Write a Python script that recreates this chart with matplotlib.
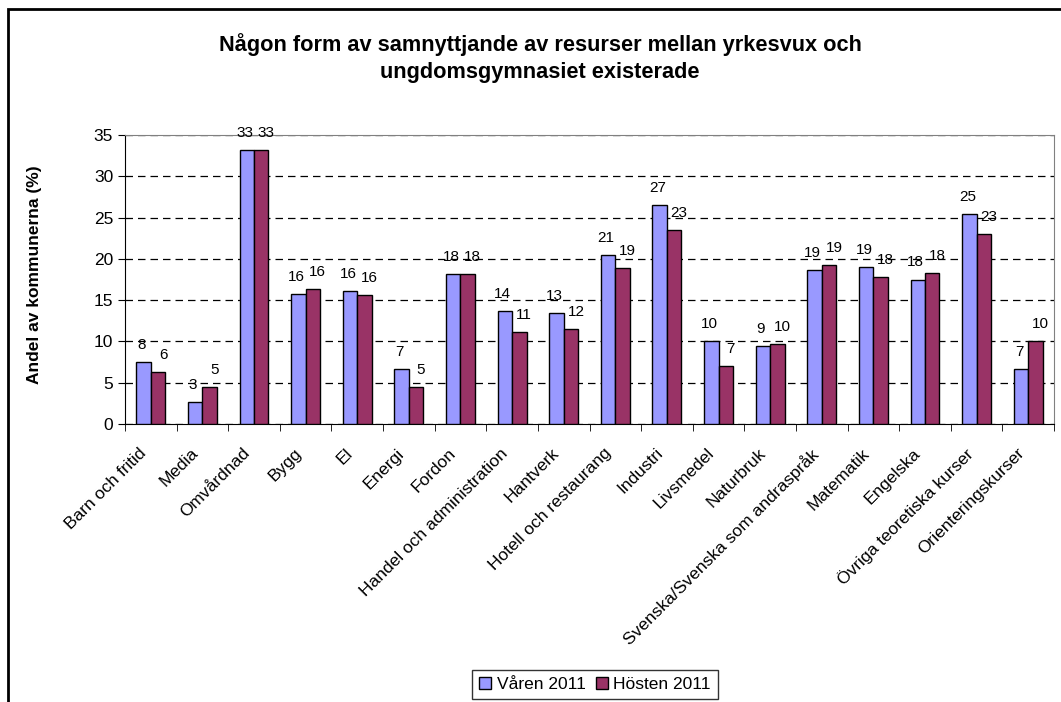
import numpy as np
import matplotlib.pyplot as plt
import matplotlib.transforms as mtransforms
from matplotlib.patches import Rectangle

plt.rcParams['font.family'] = ['Liberation Sans', 'DejaVu Sans']

categories = ["Barn och fritid", "Media", "Omvårdnad", "Bygg", "El", "Energi",
              "Fordon", "Handel och administration", "Hantverk",
              "Hotell och restaurang", "Industri", "Livsmedel", "Naturbruk",
              "Svenska/Svenska som andraspråk", "Matematik", "Engelska",
              "Övriga teoretiska kurser", "Orienteringskurser"]
varen = [7.55, 2.65, 33.2, 15.8, 16.1, 6.7, 18.2, 13.7, 13.4, 20.5, 26.5,
         10.1, 9.4, 18.7, 19.0, 17.5, 25.4, 6.7]
hosten = [6.35, 4.5, 33.2, 16.4, 15.6, 4.5, 18.2, 11.2, 11.55, 18.9, 23.45,
          7.0, 9.7, 19.3, 17.8, 18.3, 23.0, 10.1]
series = ["Våren 2011", "Hösten 2011"]
colors = ["#9999FF", "#993366"]

fig = plt.figure(figsize=(10.61, 7.02), dpi=100)
ax = fig.add_axes([125/1061, 1-424/702, (1054-125)/1061, (424-135)/702])

x = np.arange(len(categories))
w = 0.28
for vals, off, c, lab, dx in [(varen, -w/2, colors[0], series[0], -2),
                              (hosten, w/2, colors[1], series[1], 5)]:
    bars = ax.bar(x + off, vals, w, color=c, edgecolor='black', linewidth=1,
                  label=lab, zorder=3)
    for b, v in zip(bars, vals):
        ax.annotate(str(int(np.floor(v + 0.5))),
                    (b.get_x() + b.get_width()/2, v),
                    xytext=(dx, 17), textcoords='offset pixels',
                    ha='center', va='center', fontsize=11)

ax.set_xlim(-0.5, len(categories) - 0.5)
ax.set_ylim(0, 35)
ax.set_yticks(range(0, 36, 5))
ax.tick_params(axis='y', labelsize=12.5, length=5, direction='out')
ax.set_xticks(x)
ax.set_xticklabels(categories, rotation=45, ha='right', rotation_mode='anchor',
                   fontsize=12.5)
ax.tick_params(axis='x', length=0, pad=15.5)
ax.set_xticks(np.arange(-0.5, len(categories)), minor=True)
ax.tick_params(axis='x', which='minor', length=5, direction='out')
shift = mtransforms.ScaledTranslation(-12/100, 0, fig.dpi_scale_trans)
for t in ax.get_xticklabels():
    t.set_transform(t.get_transform() + shift)

ax.yaxis.grid(True, color='black', linestyle=(0, (6, 4)), linewidth=0.9, zorder=0)
ax.spines['top'].set_color('#808080')
ax.spines['right'].set_color('#808080')

ax.set_ylabel("Andel av kommunerna (%)", fontsize=12.5, fontweight='bold')
ax.yaxis.set_label_coords(-(125-42)/929, 0.515)

fig.text(0.509, 1-58/702,
         "Någon form av samnyttjande av resurser mellan yrkesvux och\nungdomsgymnasiet existerade",
         ha='center', va='center', fontsize=15.7, fontweight='bold', linespacing=1.35)

leg = fig.legend(loc='upper center', bbox_to_anchor=(595/1061, 1-670/702),
                 ncol=2, fontsize=12.5, frameon=True, fancybox=False,
                 edgecolor='black', handlelength=0.7, handleheight=0.7,
                 handletextpad=0.3, columnspacing=0.6, borderpad=0.4,
                 borderaxespad=0)
leg.get_frame().set_linewidth(1)

fig.patches.append(Rectangle((8/1061, -0.1), 1.2, 1-9/702+0.1,
                             transform=fig.transFigure, fill=False,
                             edgecolor='black', linewidth=2))

fig.savefig("out.png", dpi=100)
